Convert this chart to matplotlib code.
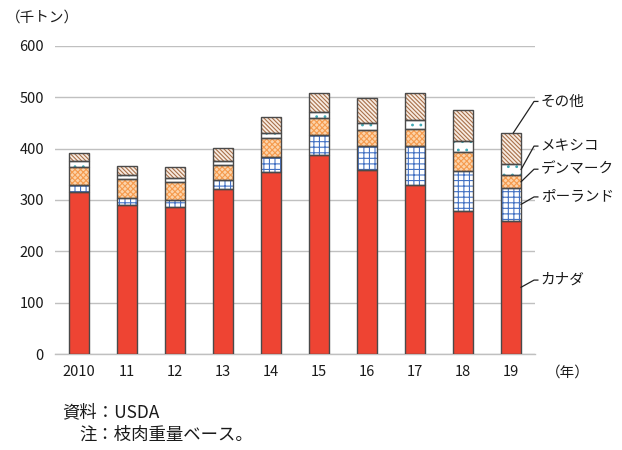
import matplotlib
matplotlib.use("Agg")
import matplotlib.pyplot as plt
import numpy as np

plt.rcParams['font.family'] = ['Noto Sans CJK JP', 'DejaVu Sans']
plt.rcParams['hatch.linewidth'] = 0.8

years = ["2010", "11", "12", "13", "14", "15", "16", "17", "18", "19"]
canada = [315, 290, 286, 321, 354, 388, 358, 329, 279, 260]
poland = [14, 13, 14, 17, 30, 38, 47, 77, 78, 63]
denmark = [36, 37, 35, 30, 37, 33, 31, 32, 37, 25]
mexico = [10, 8, 8, 8, 9, 12, 14, 18, 21, 23]
other = [17, 18, 22, 25, 31, 38, 48, 53, 60, 60]
series_names = ["カナダ", "ポーランド", "デンマーク", "メキシコ", "その他"]

styles = [
    dict(face="#EE4433", hatch=None, hcol="#EE4433"),
    dict(face="#FFFFFF", hatch="+++", hcol="#4472C4"),
    dict(face="#FCD3AA", hatch="xxxxxx", hcol="#F59B4E"),
    dict(face="#FFFFFF", hatch="..", hcol="#3FA9B5"),
    dict(face="#F8ECE2", hatch="\\" * 8, hcol="#A8704A"),
]

fig = plt.figure(figsize=(6.22, 4.5), dpi=100)
ax = fig.add_axes([55/622, 1-354/450, 480/622, 308/450])

x = np.arange(len(years))
w = 0.42
data = [canada, poland, denmark, mexico, other]
bottom = np.zeros(len(years))
for vals, st in zip(data, styles):
    vals = np.array(vals, dtype=float)
    ax.bar(x, vals, w, bottom=bottom, color=st["face"], edgecolor=st["hcol"],
           hatch=st["hatch"], linewidth=0, zorder=3)
    ax.bar(x, vals, w, bottom=bottom, fill=False, edgecolor="#4a4a4a",
           linewidth=1.0, zorder=4)
    bottom += vals

ax.set_xlim(-0.5, 9.5)
ax.set_ylim(0, 600)
ax.set_yticks(np.arange(0, 601, 100))
ax.set_xticks(x)
ax.set_xticklabels(years)
ax.grid(axis="y", color="#C0C0C0", linewidth=1.0, zorder=0)
for s in ["top", "right", "left"]:
    ax.spines[s].set_visible(False)
ax.spines["bottom"].set_color("#C0C0C0")
ax.spines["bottom"].set_linewidth(1.0)
ax.tick_params(axis="both", length=0, labelsize=10.5, colors="#1a1a1a")
ax.tick_params(axis="y", pad=8)
ax.tick_params(axis="x", pad=8)

# labels with leader lines for the last bar
i = len(years) - 1
cum = np.cumsum(np.array(data)[:, i])
bots = np.concatenate([[0], cum[:-1]])
mids = (bots + cum) / 2
label_y = [144, 306, 360, 405, 492]
xs_start = [i + w/2, i + w/2, i + w/2, i + w/2, i + 0.05]
ys_start = [mids[0], mids[1], mids[2], mids[3], cum[4]]
for k in range(5):
    ax.plot([xs_start[k], 9.48, 9.56], [ys_start[k], label_y[k], label_y[k]],
            color="#222222", linewidth=0.9, clip_on=False, zorder=5)
    ax.text(9.62, label_y[k], series_names[k], fontsize=10.5, va="center",
            ha="left", color="#1a1a1a", clip_on=False)

fig.text(6/622, 1-18/450, "（千トン）", fontsize=10.5, va="center", ha="left", color="#1a1a1a")
fig.text(546/622, 1-373/450, "（年）", fontsize=10.5, va="center", ha="left", color="#1a1a1a")
fig.text(62/622, 1-412/450, "資料：USDA", fontsize=12.5, va="center", ha="left", color="#1a1a1a")
fig.text(79/622, 1-435/450, "注：枝肉重量ベース。", fontsize=12.5, va="center", ha="left", color="#1a1a1a")

fig.savefig("out.png", dpi=100)
